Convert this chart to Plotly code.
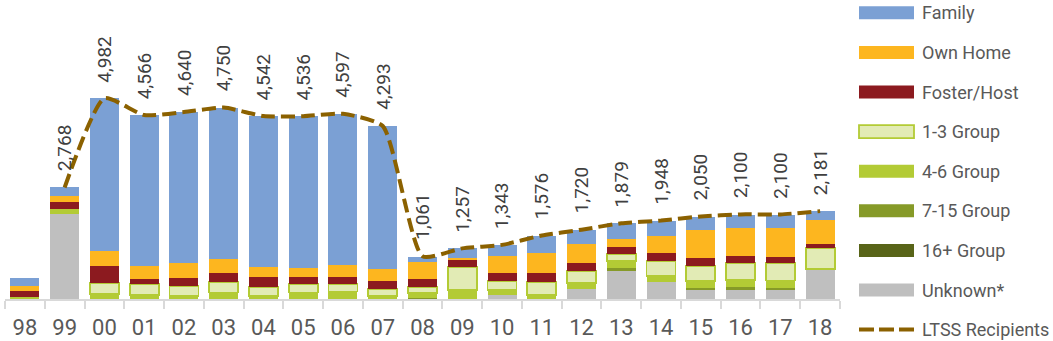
import plotly.graph_objects as go

# Fiscal years (two-digit labels on the category axis)
years = ["98", "99", "00", "01", "02", "03", "04", "05", "06", "07", "08",
         "09", "10", "11", "12", "13", "14", "15", "16", "17", "18"]

# Residential setting counts per year
family = [184, 223, 3790, 3740, 3740, 3750, 3740, 3767, 3740, 3549, 117,
          245, 266, 414, 347, 390, 365, 330, 323, 315, 223]
own_home = [132, 134, 365, 330, 365, 347, 256, 223, 305, 298, 429,
            50, 422, 496, 467, 199, 429, 695, 702, 727, 588]
foster_host = [141, 181, 422, 132, 206, 223, 241, 174, 174, 191, 191,
               166, 199, 238, 211, 166, 199, 191, 174, 141, 99]
group_1_3 = [0, 0, 285, 273, 256, 271, 238, 213, 189, 189, 164,
             580, 238, 323, 290, 189, 380, 387, 429, 444, 529]
group_4_6 = [57, 132, 119, 92, 67, 159, 67, 159, 184, 67, 109,
             216, 117, 92, 154, 166, 141, 159, 166, 184, 0]
group_7_15 = [0, 0, 0, 0, 0, 0, 0, 0, 0, 0, 32,
              0, 0, 0, 0, 62, 0, 57, 74, 57, 0]
group_16_plus = [0, 0, 0, 0, 0, 0, 0, 0, 0, 0, 0,
                 0, 0, 0, 0, 0, 0, 0, 0, 0, 0]
unknown = [0, 2098, 0, 0, 0, 0, 0, 0, 0, 0, 0,
           0, 99, 0, 243, 707, 422, 223, 223, 216, 745]

# Total LTSS recipients (no figure for 98)
ltss = [None, 2768, 4982, 4566, 4640, 4750, 4542, 4536, 4597, 4293, 1061,
        1257, 1343, 1576, 1720, 1879, 1948, 2050, 2100, 2100, 2181]

# Page geometry
W, H = 1053, 341
ML, MR, MT, MB = 5, 213, 10, 42
PW = W - ML - MR
PH = H - MT - MB
UNITS_PER_PX = 24.82
Y_MAX = PH * UNITS_PER_PX

FONT = "Roboto, 'Liberation Sans', sans-serif"
TEXT_GREY = "#595959"
LINE_COLOR = "#8B6100"
AXIS_GREY = "#D9D9D9"

# Numeric slot for each year; the axis shows the year strings as tick text
pos = list(range(len(years)))
boundaries = [p - 0.5 for p in pos] + [pos[-1] + 0.5]

# (name, values, fill, outline) from bottom of the stack to the top
series = [
    ("Unknown*", unknown, "#BFBFBF", None),
    ("16+ Group", group_16_plus, "#586418", None),
    ("7-15 Group", group_7_15, "#869A28", None),
    ("4-6 Group", group_4_6, "#B3CB35", None),
    ("1-3 Group", group_1_3, "#E2EBB5", "#B3CB35"),
    ("Foster/Host", foster_host, "#8C1A1F", None),
    ("Own Home", own_home, "#FDB61F", None),
    ("Family", family, "#7BA0D4", None),
]

fig = go.Figure()
for name, vals, fill, outline in series:
    fig.add_trace(go.Bar(
        x=pos, y=vals, name=name, customdata=years,
        marker=dict(color=fill,
                    line=dict(color=outline or fill, width=1.8 if outline else 0)),
        showlegend=False, hovertemplate="%{customdata}: %{y}<extra>" + name + "</extra>",
    ))

fig.add_trace(go.Scatter(
    x=pos, y=ltss, name="LTSS Recipients", mode="lines",
    line=dict(color=LINE_COLOR, width=4, dash="14px,6px", shape="spline", smoothing=0.55),
    connectgaps=False, showlegend=False,
))

annotations = []
# Rotated value labels above the LTSS line
for p, v in zip(pos, ltss):
    if v is None:
        continue
    annotations.append(dict(
        x=p, y=v, xref="x", yref="y", text=f"{v:,}", textangle=-90,
        showarrow=False, xanchor="center", yanchor="bottom", yshift=14,
        font=dict(family=FONT, size=19, color="#404040"),
    ))


def px_x(px):
    return (px - ML) / PW


def px_y(py):
    return (H - MB - py) / PH


# Legend drawn beside the plot area
shapes = []
legend_rows = [
    ("Family", "#7BA0D4", None),
    ("Own Home", "#FDB61F", None),
    ("Foster/Host", "#8C1A1F", None),
    ("1-3 Group", "#E2EBB5", "#B3CB35"),
    ("4-6 Group", "#B3CB35", None),
    ("7-15 Group", "#869A28", None),
    ("16+ Group", "#586418", None),
    ("Unknown*", "#BFBFBF", None),
]
ROW0, ROW_STEP = 12.8, 39.6
for i, (label, fill, outline) in enumerate(legend_rows):
    cy = ROW0 + i * ROW_STEP
    shapes.append(dict(
        type="rect", xref="paper", yref="paper",
        x0=px_x(859), x1=px_x(914), y0=px_y(cy + 6.5), y1=px_y(cy - 6.5),
        fillcolor=fill, line=dict(color=outline or fill, width=1.8 if outline else 0),
        layer="above",
    ))
    annotations.append(dict(
        x=px_x(920), y=px_y(cy), xref="paper", yref="paper", text=label,
        showarrow=False, xanchor="left", yanchor="middle",
        font=dict(family=FONT, size=18, color=TEXT_GREY),
    ))
cy = ROW0 + len(legend_rows) * ROW_STEP
shapes.append(dict(
    type="line", xref="paper", yref="paper",
    x0=px_x(859), x1=px_x(914), y0=px_y(cy), y1=px_y(cy),
    line=dict(color=LINE_COLOR, width=4, dash="15px,5px"),
))
annotations.append(dict(
    x=px_x(920), y=px_y(cy), xref="paper", yref="paper", text="LTSS Recipients",
    showarrow=False, xanchor="left", yanchor="middle",
    font=dict(family=FONT, size=18, color=TEXT_GREY),
))

fig.update_layout(
    width=W, height=H,
    margin=dict(l=ML, r=MR, t=MT, b=MB, pad=0, autoexpand=False),
    barmode="stack", bargap=0.27,
    plot_bgcolor="white", paper_bgcolor="white",
    showlegend=False,
    annotations=annotations, shapes=shapes,
    xaxis=dict(
        range=[-0.5, len(years) - 0.5], automargin=False,
        tickmode="array", tickvals=pos, ticktext=years, tickangle=0,
        showline=True, linecolor=AXIS_GREY, linewidth=1.5,
        ticks="outside", ticklen=8, tickcolor="rgba(0,0,0,0)",
        minor=dict(tickmode="array", tickvals=boundaries, ticks="outside",
                   ticklen=8, tickwidth=1.5, tickcolor=AXIS_GREY, showgrid=False),
        tickfont=dict(family=FONT, size=22, color=TEXT_GREY),
        showgrid=False, zeroline=False, fixedrange=True,
    ),
    yaxis=dict(
        range=[0, Y_MAX], showgrid=False, zeroline=False, automargin=False,
        showticklabels=False, showline=False, fixedrange=True,
    ),
)

fig.write_html("out.html")
